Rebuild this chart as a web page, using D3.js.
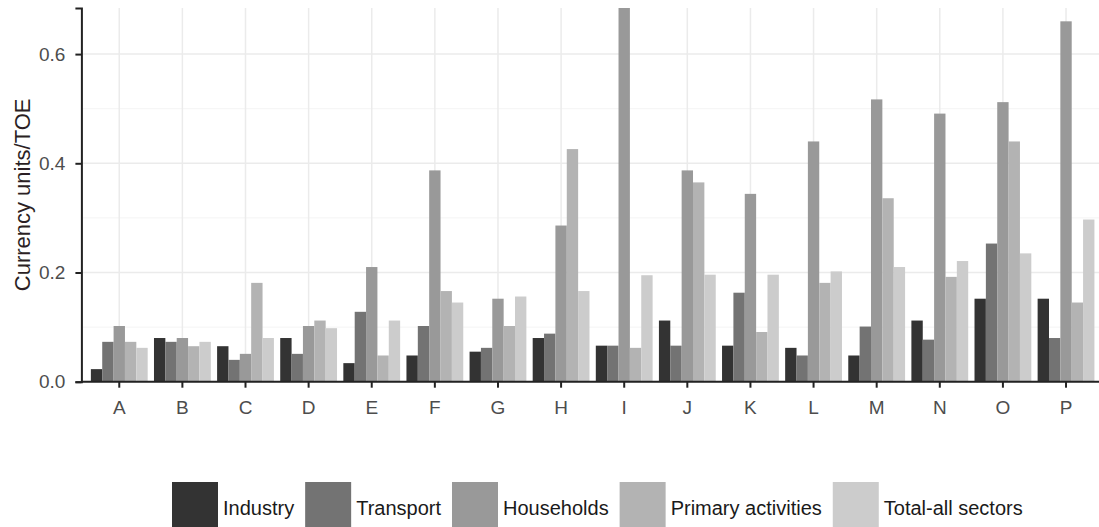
<!DOCTYPE html>
<html>
<head>
<meta charset="utf-8">
<script src="https://cdn.jsdelivr.net/npm/d3@7"></script>
<style>
  html, body { margin: 0; padding: 0; background: #fff; }
  svg { display: block; font-family: "Liberation Sans", Arial, sans-serif; }
</style>
</head>
<body>
<svg id="chart" width="1099" height="527"></svg>
<script>
const categories = ["A","B","C","D","E","F","G","H","I","J","K","L","M","N","O","P"];
const seriesNames = ["Industry","Transport","Households","Primary activities","Total-all sectors"];
const industry   = [0.023,0.080,0.065,0.080,0.034,0.048,0.055,0.080,0.066,0.112,0.066,0.062,0.048,0.112,0.152,0.152];
const transport  = [0.073,0.073,0.040,0.051,0.128,0.102,0.062,0.088,0.066,0.066,0.163,0.048,0.101,0.077,0.253,0.080];
const households = [0.102,0.080,0.051,0.102,0.210,0.387,0.152,0.286,0.690,0.387,0.344,0.440,0.517,0.491,0.512,0.660];
const primary    = [0.073,0.065,0.181,0.112,0.048,0.166,0.102,0.426,0.062,0.365,0.091,0.181,0.336,0.192,0.440,0.145];
const total      = [0.062,0.073,0.080,0.098,0.112,0.145,0.156,0.166,0.195,0.196,0.196,0.202,0.210,0.221,0.235,0.297];
const yTicks = [0.0, 0.2, 0.4, 0.6];
const yTickLabels = ["0.0","0.2","0.4","0.6"];
const yMinor = [0.1, 0.3, 0.5];
const colors = ["#333333","#737373","#999999","#b3b3b3","#cccccc"];

const seriesValues = [industry, transport, households, primary, total];
const data = categories.map((c, i) => ({
  cat: c,
  values: seriesNames.map((s, j) => ({ key: s, idx: j, value: seriesValues[j][i] }))
}));

const svg = d3.select("#chart");
const pLeft = 81.4, pRight = 1103.9, pTop = 8, pBottom = 381.7;

const x = d3.scaleBand().domain(categories).range([pLeft, pRight]).paddingInner(0).paddingOuter(0.1);
const step = x.step();
const x1 = d3.scaleBand().domain(seriesNames).range([0, step * 0.9]).padding(0);
const y = d3.scaleLinear().domain([0, 0.6844]).range([pBottom, pTop]);

svg.append("defs").append("clipPath").attr("id", "clip")
  .append("rect").attr("x", pLeft).attr("y", pTop).attr("width", 1099 - pLeft).attr("height", pBottom - pTop);

const grid = svg.append("g");
grid.selectAll("line.minor").data(yMinor).enter().append("line")
  .attr("x1", pLeft).attr("x2", 1099).attr("y1", d => y(d)).attr("y2", d => y(d))
  .attr("stroke", "#f4f4f4").attr("stroke-width", 1);
grid.selectAll("line.major").data(yTicks).enter().append("line")
  .attr("x1", pLeft).attr("x2", 1099).attr("y1", d => y(d)).attr("y2", d => y(d))
  .attr("stroke", "#ebebeb").attr("stroke-width", 1.5);
grid.selectAll("line.vert").data(categories).enter().append("line")
  .attr("x1", d => x(d) + x.bandwidth() / 2).attr("x2", d => x(d) + x.bandwidth() / 2)
  .attr("y1", pTop).attr("y2", pBottom)
  .attr("stroke", "#ebebeb").attr("stroke-width", 1.5);

const bars = svg.append("g").attr("clip-path", "url(#clip)");
bars.selectAll("g").data(data).enter().append("g")
  .attr("transform", d => `translate(${x(d.cat) + x.bandwidth() / 2 - step * 0.45},0)`)
  .selectAll("rect").data(d => d.values).enter().append("rect")
  .attr("x", d => x1(d.key))
  .attr("width", x1.bandwidth())
  .attr("y", d => y(d.value))
  .attr("height", d => pBottom - y(d.value))
  .attr("fill", d => colors[d.idx]);

// Y axis
const yAxis = d3.axisLeft(y).tickValues(yTicks).tickFormat((d, i) => yTickLabels[i]).tickSize(6).tickPadding(10);
const gy = svg.append("g").attr("transform", `translate(${pLeft},0)`).call(yAxis);
gy.select(".domain").attr("stroke", "#222").attr("stroke-width", 2);
gy.selectAll(".tick line").attr("stroke", "#222").attr("stroke-width", 2);
gy.selectAll(".tick text").attr("font-size", 19).attr("fill", "#4d4d4d")
  .attr("font-family", "Liberation Sans, Arial, sans-serif");

// X axis
const xAxis = d3.axisBottom(x).tickSize(6).tickPadding(13);
const gx = svg.append("g").attr("transform", `translate(0,${pBottom})`).call(xAxis);
gx.select(".domain").attr("d", `M${pLeft},0H1099`).attr("stroke", "#222").attr("stroke-width", 2);
gx.selectAll(".tick line").attr("stroke", "#222").attr("stroke-width", 2);
gx.selectAll(".tick text").attr("font-size", 19).attr("fill", "#4d4d4d")
  .attr("font-family", "Liberation Sans, Arial, sans-serif");

// Y title
svg.append("text")
  .attr("transform", `translate(30,${(pTop + pBottom) / 2}) rotate(-90)`)
  .attr("text-anchor", "middle")
  .attr("font-size", 22)
  .attr("fill", "#2b1f24")
  .text("Currency units/TOE");

// Legend
const legend = svg.append("g");
let lx = 172;
seriesNames.forEach((s, i) => {
  legend.append("rect").attr("x", lx).attr("y", 482).attr("width", 46).attr("height", 46)
    .attr("fill", colors[i]);
  const t = legend.append("text").attr("x", lx + 51).attr("y", 515)
    .attr("font-size", 20).attr("fill", "#1a1a1a").text(s);
  lx = lx + 51 + t.node().getComputedTextLength() + 11;
});
</script>
</body>
</html>
